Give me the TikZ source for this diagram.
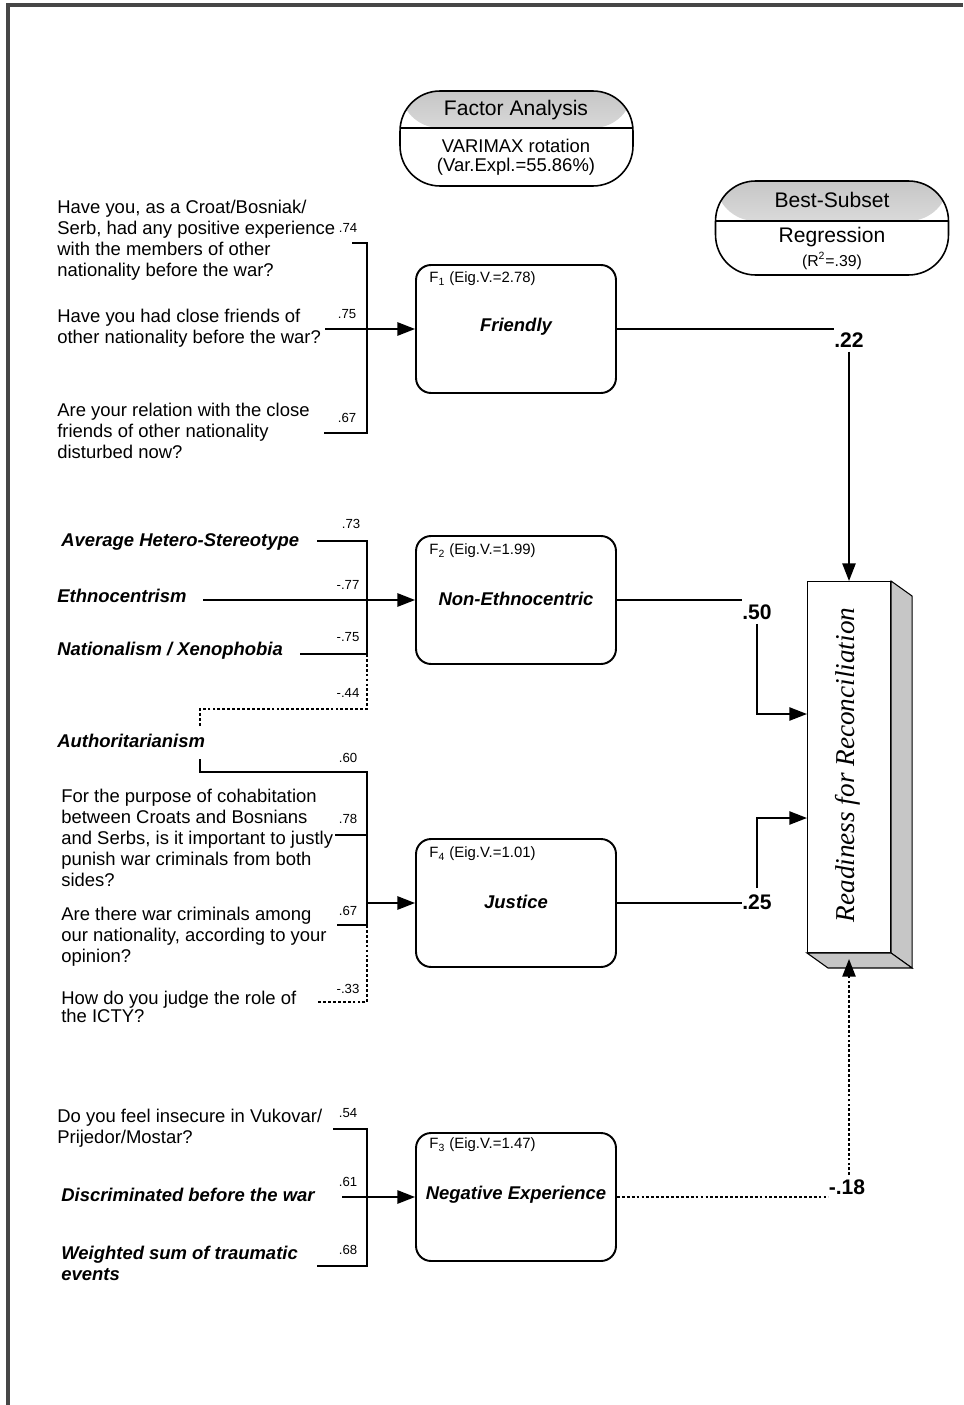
\documentclass[tikz,border=0pt]{standalone}
\usepackage{fontspec}
\setmainfont{Liberation Sans}
\newfontfamily\readfont{Liberation Serif}
\usetikzlibrary{arrows.meta,calc}

\begin{document}
\begin{tikzpicture}[x=0.02cm, y=-0.02cm, >={Triangle[length=10pt,width=7.5pt]},
  item/.style={anchor=north west, inner sep=0pt, align=left, font=\fontsize{10.5}{11.9}\selectfont},
  bitem/.style={item, font=\fontsize{10.5}{11.9}\selectfont\bfseries\itshape},
  wt/.style={inner sep=0pt, font=\fontsize{7.5}{9}\selectfont},
  coef/.style={inner sep=0pt, font=\fontsize{12}{14}\selectfont\bfseries},
  factor/.style={draw, line width=1.1pt, rounded corners=0.3cm, minimum width=4cm, minimum height=2.56cm, inner sep=0pt},
  fname/.style={inner sep=0pt, font=\fontsize{10.5}{12}\selectfont\bfseries\itshape},
  eig/.style={anchor=west, inner sep=0pt, font=\fontsize{8.5}{10}\selectfont},
  capsule/.style={draw, line width=0.9pt, rounded corners=0.8cm, minimum width=4.66cm, minimum height=1.9cm, inner sep=0pt,
    path picture={
      \shade[top color=gray!45, bottom color=gray!8] (path picture bounding box.north west) rectangle ($(path picture bounding box.north east)+(0,-#1)$);
      \draw[line width=0.9pt] ($(path picture bounding box.north west)+(0,-#1)$) -- ($(path picture bounding box.north east)+(0,-#1)$);}},
  capt/.style={inner sep=0pt, font=\fontsize{12}{14}\selectfont},
  capsub/.style={inner sep=0pt, font=\fontsize{10.5}{12}\selectfont},
  brk/.style={line width=1.1pt},
  dotl/.style={line width=1.1pt, dash pattern=on 1.6pt off 1.2pt},
  regl/.style={line width=1pt},
]
  \useasboundingbox (0,0) rectangle (963,1405);

  % --- page frame ---
  \draw[line width=1.8pt, gray!55!black] (8,1405) -- (8,5) -- (963,5);

  % --- headers ---
  \node[capsule=0.74cm] (fa) at (516.5,138.5) {};
  \node[capt] (fat) at (516,110) {Factor Analysis};
  \node[capsub] (fas1) at (516,146) {VARIMAX rotation};
  \node[capsub] (fas2) at (516,167) {(Var.Expl.=55.86\%)};

  \node[capsule=0.8cm, minimum height=1.88cm] (bs) at (832,228) {};
  \node[capt] (bst) at (832,200) {Best-Subset};
  \node[capt] (bss1) at (832,237) {Regression};
  \node[inner sep=0pt, font=\fontsize{9}{11}\selectfont] (bss2) at (832,261) {(R\textsuperscript{2}=.39)};

  % --- factors ---
  \node[factor] (f1) at (516,329) {};
  \node[eig] (e1) at ($(f1.north west)+(14,15)$) {F\textsubscript{1} (Eig.V.=2.78)};
  \node[fname] (n1) at (516,327) {Friendly};

  \node[factor] (f2) at (516,600) {};
  \node[eig] (e2) at ($(f2.north west)+(14,16)$) {F\textsubscript{2} (Eig.V.=1.99)};
  \node[fname] (n2) at (516,599) {Non-Ethnocentric};

  \node[factor] (f4) at (516,903) {};
  \node[eig] (e4) at ($(f4.north west)+(14,16)$) {F\textsubscript{4} (Eig.V.=1.01)};
  \node[fname] (n4) at (516,902) {Justice};

  \node[factor] (f3) at (516,1197) {};
  \node[eig] (e3) at ($(f3.north west)+(14,13)$) {F\textsubscript{3} (Eig.V.=1.47)};
  \node[fname] (n3) at (516,1195) {Negative Experience};

  % --- outcome (3d block) ---
  \node[draw, line width=0.6pt, minimum width=1.66cm, minimum height=7.42cm, inner sep=0pt] (ready) at (849,767) {};
  \filldraw[line width=0.6pt, fill=gray!45] (ready.north east) -- ++(21,15) -- ($(ready.south east)+(21,15)$) -- (ready.south east) -- cycle;
  \filldraw[line width=0.6pt, fill=gray!45] (ready.south west) -- (ready.south east) -- ++(21,15) -- ($(ready.south west)+(21,15)$) -- cycle;
  \node[rotate=90, inner sep=0pt, font=\readfont\fontsize{15.5}{18}\selectfont\itshape] (rtxt) at (848,765) {Readiness for Reconciliation};

  % --- items of F1 ---
  \node[item] (q1) at (57,200) {Have you, as a Croat/Bosniak/\\Serb, had any positive experience\\with the members of other\\nationality before the war?};
  \node[item] (q2) at (57,309) {Have you had close friends of\\other nationality before the war?};
  \node[item] (q3) at (57,403) {Are your relation with the close\\friends of other nationality\\disturbed now?};
  \node[wt] (w74) at (348,228) {.74};
  \node[wt] (w75) at (347,314) {.75};
  \node[wt] (w67a) at (347,418) {.67};
  \coordinate (a1) at (352,243);
  \coordinate (a2) at (325,329);
  \coordinate (a3) at (324,433);
  \coordinate (j1) at (367,329);
  \draw[brk] (a1) -| (j1) |- (a3);
  \draw[brk,->] (a2) -- (f1.west);

  % --- items of F2 ---
  \node[bitem] (v1) at (61,533) {Average Hetero-Stereotype};
  \node[bitem] (v2) at (57,589) {Ethnocentrism};
  \node[bitem] (v3) at (57,642) {Nationalism / Xenophobia};
  \node[bitem] (v4) at (57,734) {Authoritarianism};
  \node[wt] (w73) at (351,524) {.73};
  \node[wt] (w77) at (348,585) {-.77};
  \node[wt] (w75b) at (348,637) {-.75};
  \node[wt] (w44) at (348,693) {-.44};
  \coordinate (a4) at (317,541);
  \coordinate (a5) at (203,600);
  \coordinate (a6) at (300,654);
  \coordinate (j2) at (367,600);
  \coordinate (k1) at (200,709);
  \draw[brk] (a4) -| (j2) |- (a6);
  \draw[brk,->] (a5) -- (f2.west);
  \draw[dotl] (j2 |- a6) |- (k1) -- ($(k1 |- v4.north)+(0,-6)$);

  % --- items of F4 ---
  \node[item] (q4) at (61,789) {For the purpose of cohabitation\\between Croats and Bosnians\\and Serbs, is it important to justly\\punish war criminals from both\\sides?};
  \node[item] (q5) at (61,907) {Are there war criminals among\\our nationality, according to your\\opinion?};
  \node[item] (q6) at (61,991) {How do you judge the role of\\[-2pt]the ICTY?};
  \node[wt] (w60) at (348,758) {.60};
  \node[wt] (w78) at (348,819) {.78};
  \node[wt] (w67b) at (348,911) {.67};
  \node[wt] (w33) at (348,989) {-.33};
  \coordinate (a8) at (200,759);
  \coordinate (t3) at (367,772);
  \coordinate (a9) at (335,835);
  \coordinate (j3) at (367,903);
  \coordinate (a10) at (337,925);
  \coordinate (a11) at (317,1002);
  \draw[brk] (a8) |- (t3) -- (j3 |- a10) -- (a10);
  \draw[brk] (a9) -- (j3 |- a9);
  \draw[brk,->] (j3) -- (f4.west);
  \draw[dotl] (j3 |- a10) |- (a11);

  % --- items of F3 ---
  \node[item] (q7) at (57,1109) {Do you feel insecure in Vukovar/\\Prijedor/Mostar?};
  \node[bitem] (v5) at (61,1188) {Discriminated before the war};
  \node[bitem] (v6) at (61,1246) {Weighted sum of traumatic\\events};
  \node[wt] (w54) at (348,1113) {.54};
  \node[wt] (w61) at (348,1182) {.61};
  \node[wt] (w68) at (348,1250) {.68};
  \coordinate (a12) at (333,1129);
  \coordinate (a13) at (342,1197);
  \coordinate (a14) at (317,1266);
  \coordinate (j4) at (367,1197);
  \draw[brk] (a12) -| (j4) |- (a14);
  \draw[brk,->] (a13) -- (f3.west);

  % --- regression paths ---
  \node[coef] (c22) at (849,340) {.22};
  \node[coef] (c50) at (757,612) {.50};
  \node[coef] (c25) at (757,902) {.25};
  \node[coef] (c18) at (847,1187) {-.18};
  \coordinate (m50) at (757,714);
  \coordinate (m25) at (757,818);

  \draw[regl] (f1.east) -- (f1.east -| c22.west);
  \draw[regl,->] ($(c22.south)+(0,4)$) -- (c22.south |- ready.north);
  \draw[regl] (f2.east) -- (f2.east -| c50.west);
  \draw[regl,->] ($(c50.south)+(0,4)$) |- (ready.west |- m50);
  \draw[regl] (f4.east) -- (f4.east -| c25.west);
  \draw[regl,->] ($(c25.north)+(0,-6)$) |- (ready.west |- m25);
  \draw[dotl, line width=1pt] (f3.east) -- (f3.east -| c18.west);
  \draw[dotl, line width=1pt, ->] ($(ready.south |- c18.north)+(0,-4)$) -- ($(ready.south)+(0,6)$);
\end{tikzpicture}
\end{document}
